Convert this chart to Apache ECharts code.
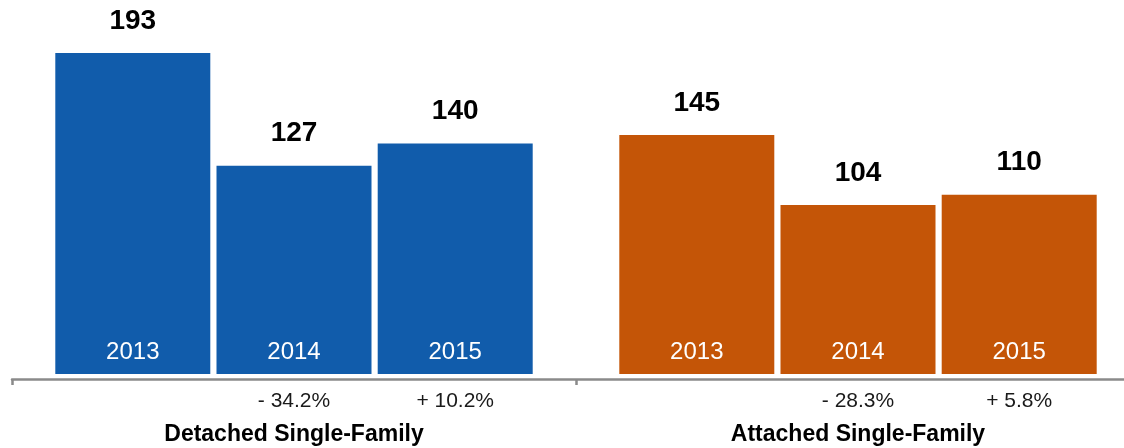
<!DOCTYPE html>
<html>
<head>
<meta charset="utf-8">
<script src="https://cdn.jsdelivr.net/npm/echarts@6/dist/echarts.min.js"></script>
<style>
html,body{margin:0;padding:0;background:#fff;overflow:hidden;width:1124px;height:448px;}
#c{width:1150px;height:448px;}
</style>
</head>
<body>
<div id="c"></div>
<script>
const categories = ['Detached Single-Family', 'Attached Single-Family'];
const years = ['2013', '2014', '2015'];
const values2013 = [193, 145];
const values2014 = [127, 104];
const values2015 = [140, 110];
const changes2013 = ['', ''];
const changes2014 = ['- 34.2%', '- 28.3%'];
const changes2015 = ['+ 10.2%', '+ 5.8%'];
const groupColors = ['#115CAB', '#C45507'];

const valuesByYear = [values2013, values2014, values2015];
const changesByYear = [changes2013, changes2014, changes2015];
const FONT = '"Liberation Sans", Arial, Helvetica, sans-serif';

const series = [];
years.forEach(function (yr, i) {
  const vals = valuesByYear[i];
  const chg = changesByYear[i];
  series.push({
    name: yr,
    type: 'bar',
    stack: 's' + yr,
    barWidth: 155,
    barGap: '4%',
    clip: true,
    data: vals.map(function (v, j) {
      return { value: v, itemStyle: { color: groupColors[j] } };
    }),
    label: {
      show: true,
      position: 'insideBottom',
      distance: 0,
      offset: [0, 64],
      formatter: function (p) {
        const c = chg[p.dataIndex];
        return '{y|' + yr + '}\n{p|' + (c === '' ? ' ' : c) + '}';
      },
      rich: {
        y: { color: '#ffffff', fontSize: 24, fontFamily: FONT, lineHeight: 24 },
        p: { color: '#1a1a1a', fontSize: 21, fontFamily: FONT, lineHeight: 74 }
      }
    },
    emphasis: { disabled: true }
  });
  series.push({
    name: yr + ' value',
    type: 'bar',
    stack: 's' + yr,
    barWidth: 155,
    barGap: '4%',
    data: vals.map(function () { return 0; }),
    itemStyle: { color: 'rgba(0,0,0,0)' },
    label: {
      show: true,
      position: 'top',
      distance: 18,
      color: '#000000',
      fontSize: 28,
      fontWeight: 'bold',
      fontFamily: FONT,
      formatter: function (p) { return String(vals[p.dataIndex]); }
    },
    emphasis: { disabled: true }
  });
});

const chart = echarts.init(document.getElementById('c'), null, { renderer: 'canvas' });
chart.setOption({
  animation: false,
  backgroundColor: '#ffffff',
  grid: { left: 12, right: 10, top: 41, bottom: 74, containLabel: false },
  xAxis: {
    type: 'category',
    data: categories,
    offset: 5,
    axisLine: { show: true, lineStyle: { color: '#8a8a8a', width: 2.5 } },
    axisTick: { show: true, length: 6, lineStyle: { color: '#8a8a8a', width: 2.5 } },
    axisLabel: {
      margin: 44,
      color: '#000000',
      fontSize: 23,
      fontWeight: 'bold',
      fontFamily: FONT
    }
  },
  yAxis: {
    type: 'value',
    min: 5,
    max: 200,
    show: false,
    splitLine: { show: false }
  },
  series: series
});
</script>
</body>
</html>
